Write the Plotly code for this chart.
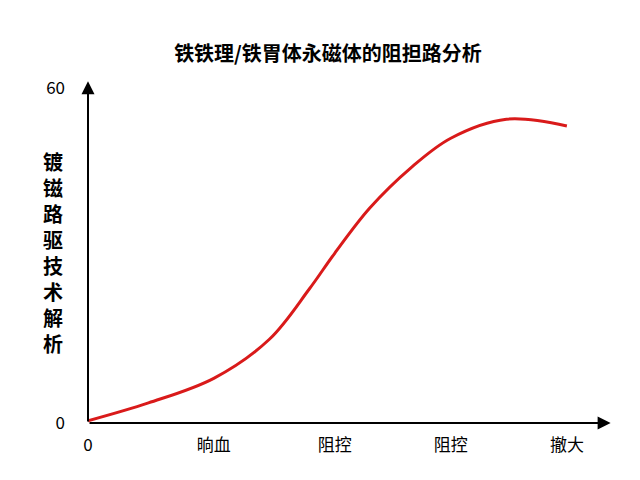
import plotly.graph_objects as go

# values
curve_x = [0, 0.5, 1.04, 1.5, 1.83, 2.04, 2.33, 2.67, 3.0, 3.46, 3.96]
curve_y = [0.4, 3.6, 8.0, 15.0, 24.0, 30.4, 38.5, 45.7, 51.0, 54.4, 53.2]
tick_pos = [0, 1.04, 2.04, 3.0, 3.96]
tick_text = ["0", "晌血", "阻控", "阻控", "撤大"]
y_ticks = [0, 60]
title = "铁铁理/铁胃体永磁体的阻担路分析"
y_title = "镀镃路驱技术解析"

font = "Noto Sans CJK SC"

fig = go.Figure(go.Scatter(x=curve_x, y=curve_y, mode="lines",
                           line=dict(color="#d91a1a", width=3, shape="spline")))

fig.update_layout(
    width=640, height=480,
    margin=dict(l=80, r=40, t=80, b=65),
    plot_bgcolor="white", paper_bgcolor="white",
    showlegend=False,
    font=dict(family=font, color="black"),
    title=dict(text="<b>" + title + "</b>", x=0.5, xanchor="center", y=0.918,
               font=dict(size=20, family=font)),
)
fig.update_xaxes(range=[0, 4.3], tickvals=tick_pos, ticktext=tick_text,
                 showgrid=False, zeroline=False, showline=False,
                 tickfont=dict(size=17), ticks="", ticklabelstandoff=10)
fig.update_yaxes(range=[0, 60], tickvals=y_ticks, showgrid=False, zeroline=False,
                 showline=False, tickfont=dict(size=17), ticks="", ticklabelstandoff=22)

# axis arrows
fig.add_annotation(x=1.005, y=0, xref="x domain", yref="y domain", ax=0, ay=0,
                   axref="x domain", ayref="y domain", showarrow=True, text="",
                   arrowhead=2, arrowsize=1.3, arrowwidth=2, arrowcolor="black")
fig.add_annotation(x=0, y=1.02, xref="x domain", yref="y domain", ax=0, ay=0,
                   axref="x domain", ayref="y domain", showarrow=True, text="",
                   arrowhead=2, arrowsize=1.3, arrowwidth=2, arrowcolor="black")

fig.add_annotation(x=-0.068, y=0.51, xref="paper", yref="paper", showarrow=False,
                   text="<b>" + "<br>".join(y_title) + "</b>",
                   font=dict(size=20, family=font), xanchor="center", yanchor="middle")

fig.write_html("out.html")
